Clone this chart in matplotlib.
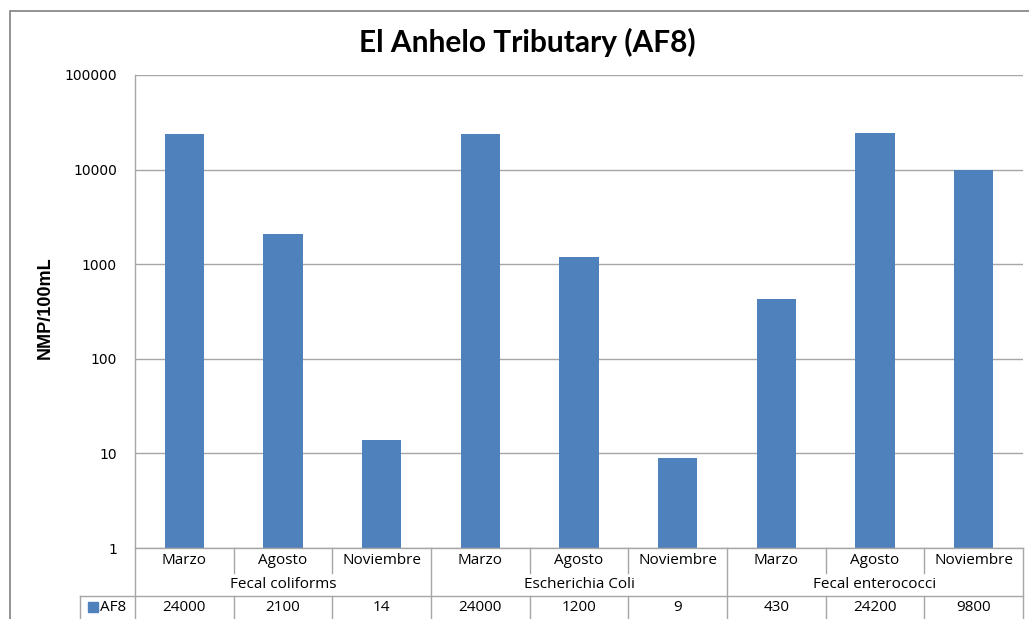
import matplotlib
matplotlib.use("Agg")
import matplotlib.pyplot as plt
import matplotlib.transforms as mtransforms
from matplotlib.lines import Line2D
from matplotlib.patches import Rectangle

months = ["Marzo", "Agosto", "Noviembre"] * 3
groups = ["Fecal coliforms", "Escherichia Coli", "Fecal enterococci"]
values = [24000, 2100, 14, 24000, 1200, 9, 430, 24200, 9800]
value_labels = ["24000", "2100", "14", "24000", "1200", "9", "430", "24200", "9800"]
yticks = [1, 10, 100, 1000, 10000, 100000]
series_name = "AF8"
title = "El Anhelo Tributary (AF8)"
ylabel = "NMP/100mL"

W, H = 1029, 619
fig = plt.figure(figsize=(W / 100, H / 100), dpi=100)
fig.patch.set_facecolor("white")

def fx(px):
    return px / W

def fy(py):
    return 1 - py / H

ax_l, ax_r, ax_t, ax_b = 135, 1023, 75, 548
ax = fig.add_axes([fx(ax_l), fy(ax_b), fx(ax_r - ax_l), fy(ax_t) - fy(ax_b)])

bar_color = "#4F81BD"
grid_color = "#A6A6A6"
x = list(range(len(values)))
ax.bar(x, values, width=0.4, color=bar_color, zorder=3)
ax.set_yscale("log")
ax.set_ylim(1, 100000)
ax.set_xlim(-0.5, len(values) - 0.5)
ax.set_yticks(yticks)
ax.set_yticklabels([str(v) for v in yticks], fontsize=10, family="DejaVu Sans")
ax.minorticks_off()
ax.tick_params(axis="y", length=0, pad=13)
ax.tick_params(axis="x", length=0, labelbottom=False)
ax.yaxis.grid(True, color=grid_color, linewidth=1, zorder=0)
for s in ["top", "right", "bottom"]:
    ax.spines[s].set_visible(False)
ax.spines["left"].set_color(grid_color)
ax.spines["left"].set_linewidth(1)

# Outer chart frame
fig.add_artist(Rectangle((fx(10), fy(H + 20)), fx(W + 20), fy(11) - fy(H + 20),
                         fill=False, edgecolor="#808080", linewidth=1.2,
                         transform=fig.transFigure))

# Title and y label
fig.text(fx(527), fy(42), title, ha="center", va="center", fontsize=21.5,
         fontweight="bold", family="Lato")
fig.text(fx(45), fy(308), ylabel, ha="center", va="center", rotation=90,
         fontsize=13, fontweight="bold", family="Liberation Sans")

# Data table below the axis
tr = mtransforms.blended_transform_factory(ax.transData, fig.transFigure)
line_kw = dict(color=grid_color, linewidth=1, transform=tr, clip_on=False)

def hline(x0, x1, py):
    fig.add_artist(Line2D([x0, x1], [fy(py), fy(py)], **line_kw))

def vline(xd, py0, py1):
    fig.add_artist(Line2D([xd, xd], [fy(py0), fy(py1)], **line_kw))

n = len(values)
row1_top, row1_bot = 548, 573
row2_bot = 596
row3_bot = 622
hline(-0.5, n - 0.5, 548)
px_per_unit = (ax_r - ax_l) / n
left_cell = -0.5 - 55 / px_per_unit
hline(left_cell, n - 0.5, row2_bot)
for i in range(n + 1):
    xb = i - 0.5
    if i % 3 == 0:
        vline(xb, row1_top, row3_bot)
    else:
        vline(xb, row1_top, row1_bot)
        vline(xb, row2_bot, row3_bot)
vline(left_cell, row2_bot, row3_bot)

tbl_font = "Open Sans"
tbl_size = 11
font_tbl = dict(fontsize=tbl_size, family=tbl_font, ha="center", va="center", transform=tr)
for i, m in enumerate(months):
    fig.text(i, fy(561), m, **font_tbl)
for g, name in enumerate(groups):
    fig.text(g * 3 + 1, fy(584), name, **font_tbl)
for i, lab in enumerate(value_labels):
    fig.text(i, fy(607.5), lab, **font_tbl)

# legend key in table
fig.add_artist(Rectangle((fx(88), fy(612)), fx(10), fy(602) - fy(612),
                         color=bar_color, transform=fig.transFigure))
fig.text(fx(100), fy(607.5), series_name, fontsize=tbl_size, family=tbl_font,
         ha="left", va="center")

fig.savefig("out.png", dpi=100)
